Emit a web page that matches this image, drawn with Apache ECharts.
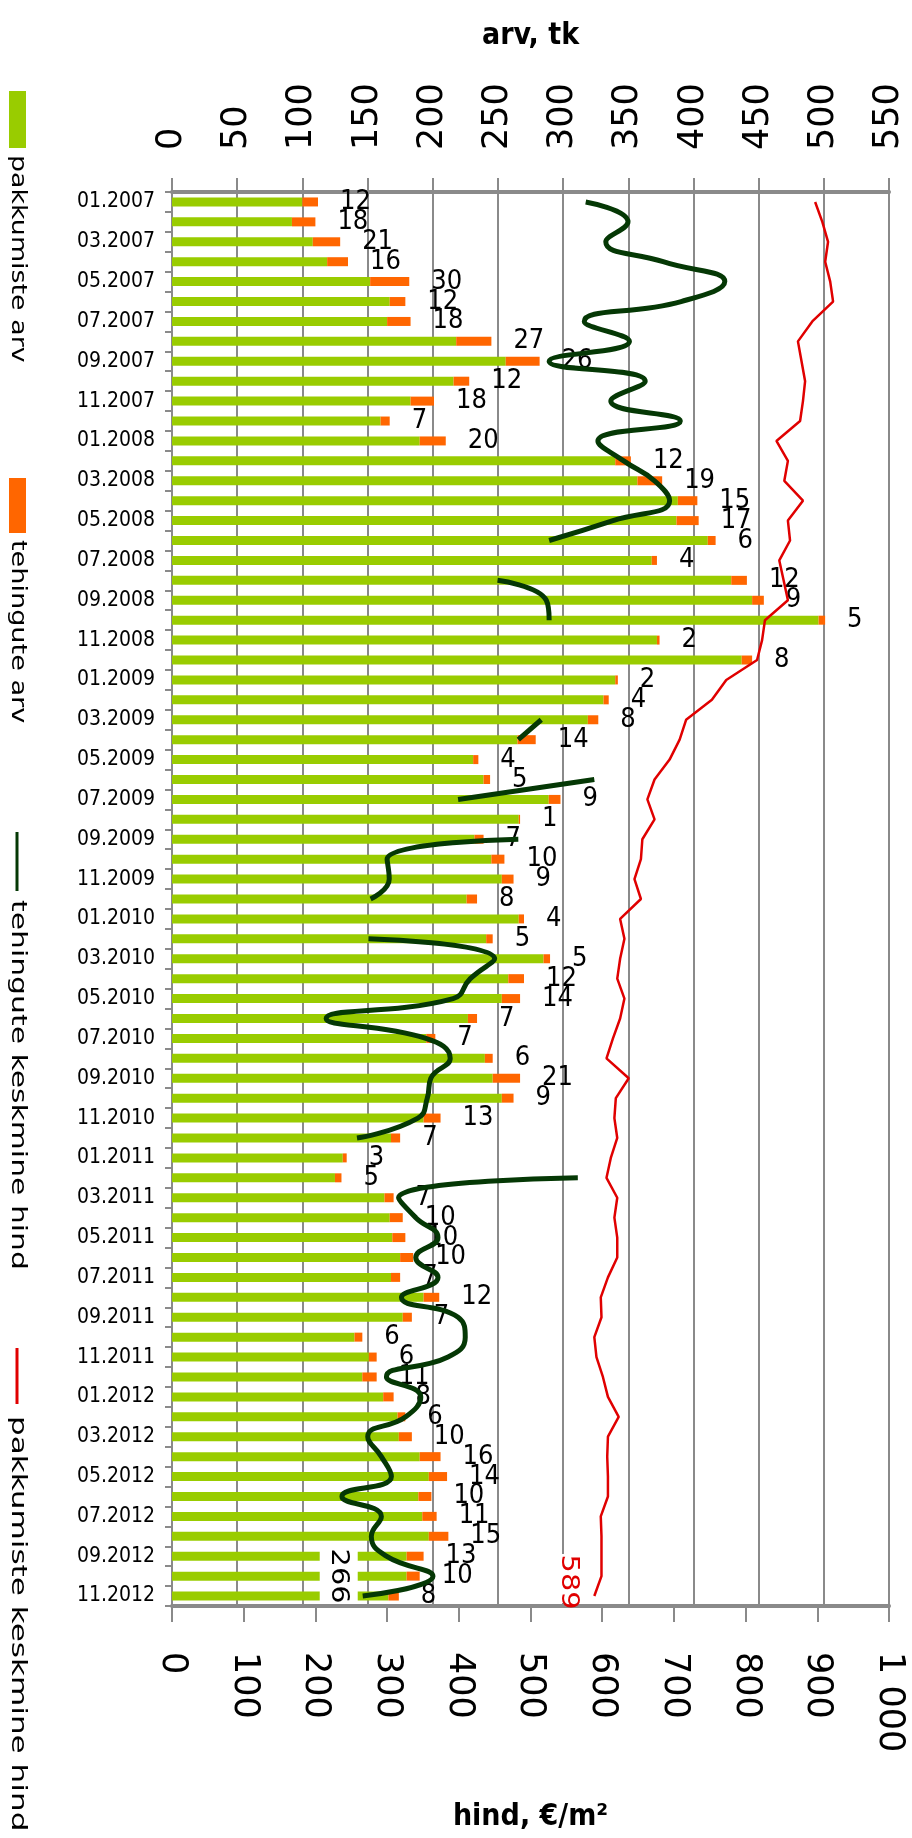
<!DOCTYPE html>
<html>
<head>
<meta charset="utf-8">
<script src="https://cdn.jsdelivr.net/npm/echarts@6/dist/echarts.min.js"></script>
<style>
html, body { margin: 0; padding: 0; background: #fff; }
#chart { width: 912px; height: 1838px; }
</style>
</head>
<body>
<div id="chart"></div>
<script>
var months = [
    '01.2007','02.2007','03.2007','04.2007','05.2007','06.2007','07.2007','08.2007','09.2007','10.2007','11.2007','12.2007',
    '01.2008','02.2008','03.2008','04.2008','05.2008','06.2008','07.2008','08.2008','09.2008','10.2008','11.2008','12.2008',
    '01.2009','02.2009','03.2009','04.2009','05.2009','06.2009','07.2009','08.2009','09.2009','10.2009','11.2009','12.2009',
    '01.2010','02.2010','03.2010','04.2010','05.2010','06.2010','07.2010','08.2010','09.2010','10.2010','11.2010','12.2010',
    '01.2011','02.2011','03.2011','04.2011','05.2011','06.2011','07.2011','08.2011','09.2011','10.2011','11.2011','12.2011',
    '01.2012','02.2012','03.2012','04.2012','05.2012','06.2012','07.2012','08.2012','09.2012','10.2012','11.2012'
];
// pakkumiste arv (green part of the bar)
var offers = [
    100, 92, 108, 119, 152, 167, 165, 218, 256, 216, 183, 160,
    190, 340, 357, 388, 387, 411, 368, 429, 445, 496, 372, 437,
    340, 331, 319, 265, 231, 239, 289, 266, 232, 245, 253, 226,
    266, 241, 285, 258, 253, 227, 195, 240, 246, 253, 193, 168,
    131, 125, 163, 167, 169, 175, 168, 193, 177, 140, 151, 146,
    162, 173, 174, 190, 197, 189, 192, 197, 180, 180, 166
];
// tehingute arv (orange part)
var deals = [
    12, 18, 21, 16, 30, 12, 18, 27, 26, 12, 18, 7,
    20, 12, 19, 15, 17, 6, 4, 12, 9, 5, 2, 8,
    2, 4, 8, 14, 4, 5, 9, 1, 7, 10, 9, 8,
    4, 5, 5, 12, 14, 7, 7, 6, 21, 9, 13, 7,
    3, 5, 7, 10, 10, 10, 7, 12, 7, 6, 6, 11,
    8, 6, 10, 16, 14, 10, 11, 15, 13, 10, 8
];
// tehingute keskmine hind, €/m2
var dealPrice = [
    577, 636, 605, 685, 771, 710, 575, 638, 526, 660, 612, 709,
    594, 630, 673, 694, 615, 526, null, 454, 522, 526, null, null,
    null, null, 515, 483, null, 589, 399, null, 483, 300, 303, 277,
    null, 274, 450, 416, 392, 215, 354, 388, 361, 356, 343, 258,
    null, 566, 316, 340, 371, 340, 371, 320, 399, 409, 385, 299,
    347, 326, 273, 292, 306, 237, 292, 278, 299, 364, 266
];
// pakkumiste keskmine hind, €/m2
var offerPrice = [
    897, 907, 915, 911, 918, 922, 893, 873, 878, 883, 880, 876,
    843, 859, 854, 880, 859, 862, 847, 853, 859, 827, 823, 816,
    773, 753, 717, 708, 694, 673, 663, 673, 656, 654, 645, 654,
    625, 631, 625, 621, 631, 625, 615, 606, 637, 619, 617, 621,
    612, 606, 621, 617, 621, 621, 608, 598, 599, 589, 592, 601,
    608, 623, 608, 607, 608, 608, 598, 599, 599, 599, 589
];

var narrowFont = "'Liberation Sans Narrow', 'DejaVu Sans Condensed', sans-serif";
var green = '#99cc00', orange = '#ff6600', darkGreen = '#053805', red = '#e00000';
var axisGrey = '#8a8a8a';

var chart = echarts.init(document.getElementById('chart'));

var option = {
    animation: false,
    backgroundColor: '#fff',
    grid: { left: 172, right: 23, top: 192, bottom: 232, containLabel: false, outerBoundsMode: 'none' },
    xAxis: [{
        type: 'value',
        position: 'top',
        min: 0, max: 550, interval: 50,
        name: 'arv, tk',
        nameLocation: 'middle',
        nameGap: 141,
        nameTextStyle: { fontFamily: 'DejaVu Sans Condensed', fontWeight: 'bold', fontSize: 30, color: '#000' },
        axisLine: { show: true, lineStyle: { color: axisGrey, width: 4 } },
        axisTick: { show: true, length: 14, lineStyle: { color: axisGrey, width: 2 } },
        axisLabel: { rotate: -90, margin: 42, fontFamily: 'DejaVu Sans', fontSize: 35, color: '#000' },
        splitLine: { show: true, lineStyle: { color: axisGrey, width: 2 } }
    }, {
        type: 'value',
        position: 'bottom',
        min: 0, max: 1000, interval: 100,
        name: 'hind, €/m²',
        nameLocation: 'middle',
        nameGap: 196,
        nameTextStyle: { fontFamily: 'DejaVu Sans Condensed', fontWeight: 'bold', fontSize: 30, color: '#000' },
        axisLine: { show: true, lineStyle: { color: axisGrey, width: 4 } },
        axisTick: { show: true, length: 16, lineStyle: { color: axisGrey, width: 2 } },
        axisLabel: {
            rotate: -90, margin: 46, fontFamily: 'DejaVu Sans', fontSize: 35, color: '#000',
            formatter: function (v) { return v >= 1000 ? '1 000' : String(v); }
        },
        splitLine: { show: false }
    }],
    yAxis: {
        type: 'category',
        data: months,
        inverse: true,
        axisLine: { show: true, lineStyle: { color: axisGrey, width: 2 } },
        axisTick: { show: true, interval: 0, length: 7, lineStyle: { color: axisGrey, width: 2 } },
        axisLabel: { interval: 1, margin: 17, fontFamily: narrowFont, fontSize: 21, color: '#000' }
    },
    series: [{
        name: 'pakkumiste arv',
        type: 'bar',
        stack: 'arv',
        xAxisIndex: 0,
        barWidth: 9,
        itemStyle: { color: green },
        data: offers
    }, {
        name: 'tehingute arv',
        type: 'bar',
        stack: 'arv',
        xAxisIndex: 0,
        barWidth: 9,
        itemStyle: { color: orange },
        label: { show: true, position: 'right', distance: 22, fontFamily: narrowFont, fontSize: 27, color: '#000' },
        data: deals
    }, {
        name: 'tehingute keskmine hind',
        type: 'line',
        xAxisIndex: 1,
        smooth: 0.5,
        showSymbol: false,
        lineStyle: { color: darkGreen, width: 5 },
        itemStyle: { color: darkGreen },
        data: dealPrice
    }, {
        name: 'pakkumiste keskmine hind',
        type: 'line',
        xAxisIndex: 1,
        showSymbol: false,
        lineStyle: { color: red, width: 2.5 },
        itemStyle: { color: red },
        data: offerPrice
    }]
};
chart.setOption(option);

// legend drawn by hand, it is rotated like the rest of the picture
function legendText(txt, y, sx) {
    return {
        type: 'text', x: 17, y: y, rotation: -Math.PI / 2, scaleX: sx, z: 100,
        style: {
            text: txt, fontSize: 21, fontFamily: 'DejaVu Sans', fill: '#000',
            align: 'left', verticalAlign: 'middle'
        }
    };
}
// last-point labels of the two price lines, white box behind them
var last = months.length - 1;
var plotBottom = 1838 - 232;
var pDeal = chart.convertToPixel({ seriesIndex: 2 }, [dealPrice[last], last]);
var pOffer = chart.convertToPixel({ seriesIndex: 3 }, [offerPrice[last], last]);
function endLabel(p, dx, dy, txt, color) {
    var cx = p[0] + dx, cy = p[1] + dy;
    var top = cy - 28, bottom = Math.min(cy + 28, plotBottom - 3);
    return [{
        type: 'rect', z: 90,
        shape: { x: cx - 19, y: top, width: 38, height: bottom - top },
        style: { fill: '#fff' }
    }, {
        type: 'text', x: cx, y: cy, rotation: -Math.PI / 2, scaleX: 1.15, z: 100,
        style: {
            text: txt, fontSize: 25, fontFamily: 'DejaVu Sans', fill: color,
            align: 'center', verticalAlign: 'middle'
        }
    }];
}

chart.setOption({
    graphic: [
        { type: 'rect', z: 100, shape: { x: 9, y: 91, width: 17, height: 57 }, style: { fill: green } },
        legendText('pakkumiste arv', 155, 1.28),
        { type: 'rect', z: 100, shape: { x: 9, y: 478, width: 17, height: 55 }, style: { fill: orange } },
        legendText('tehingute arv', 540, 1.29),
        { type: 'line', z: 100, shape: { x1: 17, y1: 832, x2: 17, y2: 891 }, style: { stroke: darkGreen, lineWidth: 3 } },
        legendText('tehingute keskmine hind', 900, 1.42),
        { type: 'line', z: 100, shape: { x1: 17, y1: 1348, x2: 17, y2: 1404 }, style: { stroke: red, lineWidth: 3 } },
        legendText('pakkumiste keskmine hind', 1416, 1.48)
    ].concat(
        endLabel(pDeal, -24, -20, String(dealPrice[last]), '#000'),
        endLabel(pOffer, -26, -14, String(offerPrice[last]), red)
    )
});
</script>
</body>
</html>
